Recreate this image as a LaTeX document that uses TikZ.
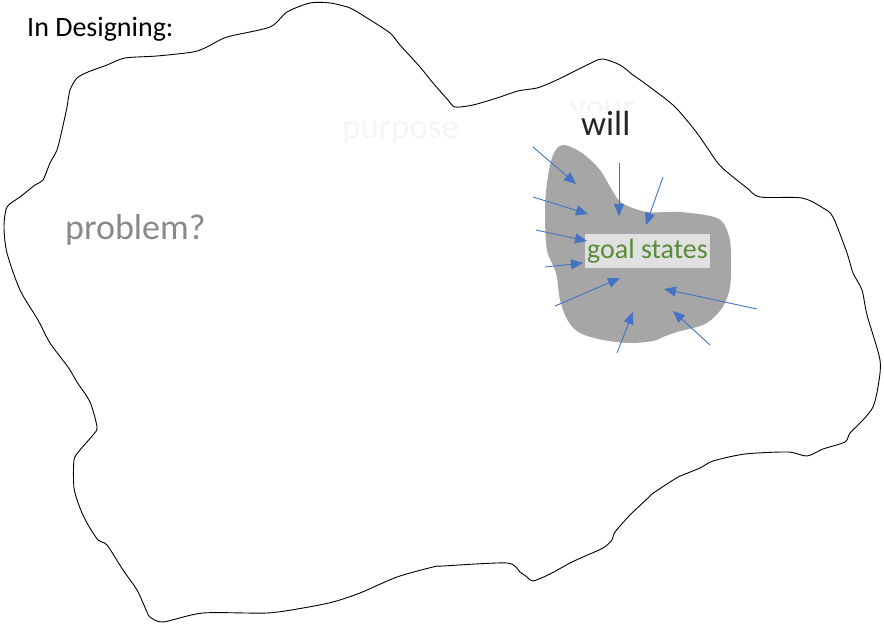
\documentclass[tikz,border=0pt]{standalone}
\usepackage{fontspec}
\setmainfont{Carlito}
\usetikzlibrary{arrows.meta}
\definecolor{probgray}{RGB}{137,137,137}
\definecolor{faint}{RGB}{245,245,245}
\definecolor{willcol}{RGB}{38,38,38}
\definecolor{blobgray}{RGB}{166,166,166}
\definecolor{boxgray}{RGB}{224,224,224}
\definecolor{goalgreen}{RGB}{88,140,56}
\definecolor{arrblue}{RGB}{68,114,196}
\tikzset{
  txt/.style={inner sep=0pt, anchor=base west},
  pull/.style={draw=arrblue, line width=0.9pt, -{Triangle[length=12pt,width=10pt]}},
  outline/.style={draw=black, line width=0.9pt, line join=round},
}
\begin{document}
\begin{tikzpicture}[x=1pt,y=-1pt]
\useasboundingbox (0,0) rectangle (884,628);
% big freehand outline
\draw[outline] plot[smooth cycle, tension=0.45] coordinates {
(163,622) (150,617) (147,612) (137,590) (123,570) (107,545) (98,540) (87,523)
(80,508) (74,488) (74,460) (80,450) (93,435) (97,427) (90,402) (77,382)
(68,367) (50,343) (38,320) (20,290) (7,253) (4,227) (7,207) (20,197) (35,185)
(43,180) (50,163) (57,150) (62,130) (67,107) (70,90) (77,78) (88,72) (107,65)
(125,58) (157,56) (193,52) (207,47) (227,37) (270,27) (287,12) (310,3) (330,3)
(350,8) (367,18) (390,33) (400,45) (420,67) (433,83) (448,100) (455,107)
(473,105) (497,98) (518,91) (537,88) (550,83) (563,77) (587,65) (602,59)
(620,65) (633,75) (643,82) (667,100) (678,110) (697,133) (717,162) (727,172)
(747,188) (760,197) (802,198) (823,208) (833,217) (847,253) (853,273) (862,290)
(867,315) (880,360) (878,387) (873,407) (863,420) (850,433) (845,442) (823,449)
(807,456) (788,452) (745,454) (713,461) (700,468) (678,477) (670,482) (652,494)
(648,498) (630,515) (615,532) (612,540) (603,548) (583,557) (570,563) (550,574)
(533,581) (527,577) (520,572) (507,563) (443,566) (433,567) (397,577) (360,593)
(333,602) (303,608) (267,613) (203,613)};
% gray blob
\fill[blobgray] plot[smooth cycle, tension=0.55] coordinates {
(563,145) (582,153) (600,170) (612,190) (622,203) (647,212) (680,212) (717,218)
(728,233) (731,253) (730,287) (722,308) (705,324) (677,332) (663,337) (653,341)
(630,343) (603,340) (580,333) (568,321) (560,300) (556,273) (547,250) (545,213)
(547,183) (553,155)};
% texts
\node[txt, font=\fontsize{28}{32}\selectfont] (title) at (27,37) {In Designing:};
\node[txt, text=probgray, font=\fontsize{36}{40}\selectfont] (problem) at (65,240) {problem?};
\node[txt, text=faint, font=\fontsize{35}{40}\selectfont] (purpose) at (342,139) {purpose};
\begin{scope}
  \clip (560,95) rectangle (650,111);
  \node[txt, text=faint, font=\fontsize{35}{40}\selectfont] (your) at (570,119) {your};
\end{scope}
\node[txt, text=willcol, font=\fontsize{35}{40}\selectfont] (will) at (581,136) {will};
\node[fill=boxgray, inner sep=0pt, minimum width=125pt, minimum height=34pt,
      text=goalgreen, font=\fontsize{28}{32}\selectfont] (goal) at (647.5,251) {goal states};
% arrows
\coordinate (s1) at (533,147); \coordinate (e1) at (576,184);
\coordinate (s2) at (533,197); \coordinate (e2) at (588,214);
\coordinate (s3) at (536,230); \coordinate (e3) at (587,241);
\coordinate (s4) at (545,267); \coordinate (e4) at (583,263);
\coordinate (s5) at (555,306); \coordinate (e5) at (620,278);
\coordinate (s6) at (617,353); \coordinate (e6) at (633,312);
\coordinate (s7) at (710,345); \coordinate (e7) at (673,311);
\coordinate (s8) at (757,309); \coordinate (e8) at (664,289);
\coordinate (s9) at (619,163); \coordinate (e9) at (619,216);
\coordinate (s10) at (663,177); \coordinate (e10) at (646,225);
\foreach \i in {1,...,10} { \draw[pull] (s\i) -- (e\i); }
\end{tikzpicture}
\end{document}
